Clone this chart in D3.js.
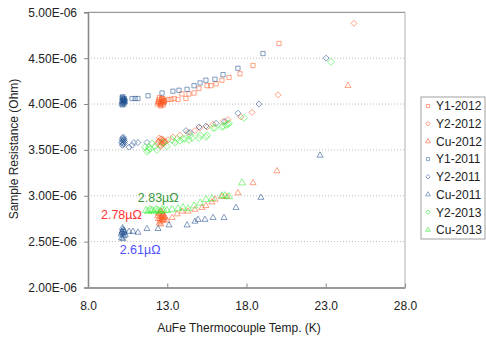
<!DOCTYPE html>
<html>
<head>
<meta charset="utf-8">
<script src="https://cdn.jsdelivr.net/npm/d3@7"></script>
<style>
  html, body { margin: 0; padding: 0; background: #fff; }
  svg { display: block; font-family: "Liberation Sans", Arial, sans-serif; }
</style>
</head>
<body>
<svg id="chart" width="486" height="338"></svg>
<script>
// ---------------- DATA (temperature in K, resistance in units of 1E-06 Ohm) ----------------
const seriesNames = ["Y1-2012", "Y2-2012", "Cu-2012", "Y1-2011", "Y2-2011", "Cu-2011", "Y2-2013", "Cu-2013"];

const y1_2012_T = [12.4,12.45,12.5,12.55,12.6,12.65,12.7,12.75,12.8,12.5,12.6,12.7,12.55,12.65,12.75,12.85,12.45,12.6,12.7,12.8,
  13.05,13.24,13.43,13.68,13.93,14.18,14.37,14.69,15.0,15.51,15.76,16.08,16.45,16.9,17.59,18.41,20.05];
const y1_2012_R = [4.00,4.03,4.05,3.99,4.02,4.06,4.01,4.04,4.02,4.07,3.98,4.03,4.01,4.05,3.99,4.04,4.02,4.00,4.06,4.03,
  4.05,4.05,4.06,4.05,4.11,4.06,4.11,4.12,4.17,4.20,4.20,4.22,4.26,4.29,4.33,4.42,4.66];

const y2_2012_T = [12.4,12.5,12.55,12.6,12.65,12.7,12.75,12.8,12.5,12.6,12.7,12.85,12.45,12.65,12.75,
  12.86,13.05,13.36,13.80,14.31,14.75,15.07,15.51,15.89,16.52,16.83,17.65,18.35,19.99,24.78];
const y2_2012_R = [3.57,3.60,3.55,3.62,3.58,3.56,3.61,3.59,3.63,3.54,3.60,3.58,3.59,3.62,3.57,
  3.59,3.61,3.64,3.66,3.69,3.71,3.74,3.75,3.78,3.81,3.83,3.86,3.91,4.10,4.88];

const cu_2012_T = [12.4,12.45,12.5,12.55,12.6,12.65,12.7,12.75,12.8,12.5,12.6,12.7,12.55,12.65,12.75,12.85,12.45,12.6,12.7,12.8,
  12.98,13.30,13.62,13.93,14.31,14.75,15.19,15.44,15.82,16.01,16.45,16.77,17.46,18.41,19.92,24.4];
const cu_2012_R = [2.78,2.75,2.80,2.72,2.77,2.82,2.74,2.79,2.76,2.70,2.83,2.78,2.75,2.73,2.80,2.77,2.81,2.69,2.76,2.74,
  2.73,2.76,2.80,2.83,2.83,2.85,2.87,2.89,2.93,2.96,2.99,2.99,3.03,3.14,3.27,4.20];

const y1_2011_T = [10.12,10.15,10.18,10.2,10.22,10.25,10.28,10.3,10.15,10.2,10.25,10.3,10.35,10.18,10.22,10.27,
  10.78,10.97,11.15,11.79,12.67,13.36,13.74,14.25,14.69,15.07,15.44,16.01,16.52,17.46,19.04];
const y1_2011_R = [4.00,4.03,4.06,4.08,4.02,4.05,4.00,4.04,4.07,4.01,4.04,4.06,4.03,3.99,4.05,4.02,
  4.06,4.06,4.06,4.09,4.12,4.14,4.15,4.16,4.20,4.23,4.26,4.27,4.32,4.39,4.55];

const y2_2011_T = [10.12,10.15,10.18,10.2,10.22,10.25,10.28,10.3,10.17,10.23,10.27,10.2,
  10.59,10.78,10.9,11.15,11.72,14.18,14.44,15.0,15.44,16.08,16.64,17.46,18.79,23.02];
const y2_2011_R = [3.58,3.61,3.63,3.56,3.60,3.62,3.57,3.59,3.55,3.64,3.61,3.58,
  3.53,3.55,3.58,3.58,3.58,3.71,3.69,3.75,3.76,3.79,3.81,3.90,4.00,4.50];

const cu_2011_T = [10.1,10.15,10.2,10.25,10.3,10.12,10.18,10.22,10.28,10.35,10.2,10.15,
  10.59,10.84,11.15,11.72,12.42,13.11,14.25,14.75,14.94,15.38,15.89,16.58,17.34,18.91,22.64];
const cu_2011_R = [2.58,2.61,2.63,2.56,2.60,2.54,2.65,2.59,2.62,2.57,2.53,2.60,
  2.61,2.61,2.60,2.64,2.64,2.68,2.68,2.72,2.74,2.74,2.76,2.76,2.87,2.98,3.44];

const y2_2013_T = [11.60,11.79,11.91,11.72,11.85,12.04,12.23,12.35,12.73,12.98,13.30,13.49,13.62,13.80,13.99,14.12,
  14.37,14.44,14.56,15.0,15.07,15.44,15.51,15.89,16.01,16.45,16.52,16.71,16.83,16.90,17.84,23.33];
const y2_2013_R = [3.53,3.50,3.51,3.48,3.53,3.57,3.54,3.50,3.58,3.54,3.61,3.58,3.62,3.60,3.62,3.62,
  3.61,3.66,3.63,3.63,3.66,3.64,3.66,3.74,3.74,3.75,3.76,3.77,3.78,3.79,3.85,4.46];

const cu_2013_T = [11.66,11.79,11.91,12.04,12.16,12.29,12.42,12.54,12.67,12.80,12.98,13.30,13.68,13.99,14.31,14.69,
  15.07,15.44,15.82,16.45,16.64,16.90,17.72];
const cu_2013_R = [2.84,2.83,2.85,2.84,2.83,2.85,2.84,2.83,2.85,2.84,2.84,2.85,2.86,2.87,2.86,2.89,
  2.92,2.96,2.97,3.00,3.00,2.99,3.14];

const xTicks = [8, 13, 18, 23, 28];
const yTicks = [2.0, 2.5, 3.0, 3.5, 4.0, 4.5, 5.0];
const annotations = [
  { text: "2.83\u00b5\u03a9", T: 11.14, R: 2.93, color: "#3a993a" },
  { text: "2.78\u00b5\u03a9", T: 8.82,  R: 2.75, color: "#ff3333" },
  { text: "2.61\u00b5\u03a9", T: 10.0,  R: 2.36, color: "#5050ff" }
];

// ---------------- STYLE ----------------
// square-proportioned diamond (rotated square)
const squareDiamond = {
  draw(ctx, size) {
    const r = Math.sqrt(size / 2);
    ctx.moveTo(0, -r); ctx.lineTo(r, 0); ctx.lineTo(0, r); ctx.lineTo(-r, 0); ctx.closePath();
  }
};
const ORANGE = "#ff5a22", BLUE = "#1d4f8e", GREEN = "#33ee33";
const series = [
  { name: seriesNames[0], T: y1_2012_T, R: y1_2012_R, color: ORANGE, shape: d3.symbolSquare,   size: 18, leg: "#ff9a80" },
  { name: seriesNames[1], T: y2_2012_T, R: y2_2012_R, color: ORANGE, shape: squareDiamond,     size: 18, leg: "#ff9a80" },
  { name: seriesNames[2], T: cu_2012_T, R: cu_2012_R, color: ORANGE, shape: d3.symbolTriangle, size: 16, leg: "#ff9a80" },
  { name: seriesNames[3], T: y1_2011_T, R: y1_2011_R, color: BLUE,   shape: d3.symbolSquare,   size: 18, leg: "#8aa4c8" },
  { name: seriesNames[4], T: y2_2011_T, R: y2_2011_R, color: BLUE,   shape: squareDiamond,     size: 18, leg: "#8aa4c8" },
  { name: seriesNames[5], T: cu_2011_T, R: cu_2011_R, color: BLUE,   shape: d3.symbolTriangle, size: 16, leg: "#8aa4c8" },
  { name: seriesNames[6], T: y2_2013_T, R: y2_2013_R, color: GREEN,  shape: squareDiamond,     size: 24, leg: "#80f080" },
  { name: seriesNames[7], T: cu_2013_T, R: cu_2013_R, color: GREEN,  shape: d3.symbolTriangle, size: 22, leg: "#80f080" }
];

const svg = d3.select("#chart");
const pLeft = 88, pRight = 405, pTop = 12.3, pBottom = 287.5;

const x = d3.scaleLinear().domain([8, 28]).range([pLeft, pRight]);
const y = d3.scaleLinear().domain([2, 5]).range([pBottom, pTop]);

// gridlines
svg.append("g").selectAll("line").data(yTicks.filter(v => v > 2 && v < 5)).join("line")
  .attr("x1", pLeft).attr("x2", pRight)
  .attr("y1", d => y(d)).attr("y2", d => y(d))
  .attr("stroke", "#bcbcbc").attr("stroke-width", 1).attr("stroke-dasharray", "1,2");

// frame top/right
svg.append("line").attr("x1", pLeft).attr("x2", pRight).attr("y1", pTop).attr("y2", pTop)
  .attr("stroke", "#9a9a9a").attr("stroke-width", 1.2);
svg.append("line").attr("x1", pRight).attr("x2", pRight).attr("y1", pTop).attr("y2", pBottom)
  .attr("stroke", "#b0b0b0").attr("stroke-width", 1);

// axes
const yAxis = d3.axisLeft(y).tickValues(yTicks).tickSize(4).tickPadding(7)
  .tickFormat(v => v.toFixed(2) + "E-06");
const gy = svg.append("g").attr("transform", `translate(${pLeft},0)`).call(yAxis);
gy.select(".domain").attr("stroke", "#8a8a8a").attr("stroke-width", 1.6);
gy.selectAll(".tick line").attr("stroke", "#8a8a8a");
gy.selectAll("text").attr("font-size", 12).attr("fill", "#222")
  .attr("font-family", "Liberation Sans, Arial, sans-serif");

const xAxis = d3.axisBottom(x).tickValues(xTicks).tickSizeInner(-4).tickSizeOuter(0).tickPadding(14)
  .tickFormat(v => v.toFixed(1));
const gx = svg.append("g").attr("transform", `translate(0,${pBottom})`).call(xAxis);
gx.select(".domain").attr("stroke", "#999").attr("stroke-width", 2);
gx.selectAll(".tick line").attr("stroke", "#8a8a8a");
gx.selectAll("text").attr("font-size", 12).attr("fill", "#222")
  .attr("font-family", "Liberation Sans, Arial, sans-serif");

// axis titles
svg.append("text").attr("x", 239).attr("y", 332).attr("text-anchor", "middle")
  .attr("font-size", 12).attr("fill", "#222").text("AuFe Thermocouple Temp. (K)");
svg.append("text").attr("transform", "translate(18,149) rotate(-90)").attr("text-anchor", "middle")
  .attr("font-size", 12).attr("fill", "#222").text("Sample Resistance (Ohm)");

// points
series.forEach(s => {
  const sym = d3.symbol().type(s.shape).size(s.size);
  svg.append("g").selectAll("path").data(s.T.map((t, i) => [t, s.R[i]])).join("path")
    .attr("transform", d => `translate(${x(d[0])},${y(d[1])})`)
    .attr("d", sym)
    .attr("fill", "none")
    .attr("stroke", s.color)
    .attr("stroke-opacity", 0.55)
    .attr("stroke-width", 1);
});

// annotations
svg.append("g").selectAll("text").data(annotations).join("text")
  .attr("x", d => x(d.T)).attr("y", d => y(d.R))
  .attr("font-size", 12.5).attr("fill", d => d.color).text(d => d.text);

// legend
const lg = svg.append("g");
lg.append("rect").attr("x", 421).attr("y", 97).attr("width", 64).attr("height", 142)
  .attr("fill", "#fff").attr("stroke", "#a0a0a0").attr("stroke-width", 1);
series.forEach((s, i) => {
  const cy = 106 + i * 17.7;
  lg.append("path").attr("transform", `translate(428,${cy})`)
    .attr("d", d3.symbol().type(s.shape).size(10))
    .attr("fill", "none").attr("stroke", s.leg).attr("stroke-width", 1);
  lg.append("text").attr("x", 436).attr("y", cy + 4.3).attr("font-size", 12)
    .attr("fill", "#222").text(s.name);
});
</script>
</body>
</html>
